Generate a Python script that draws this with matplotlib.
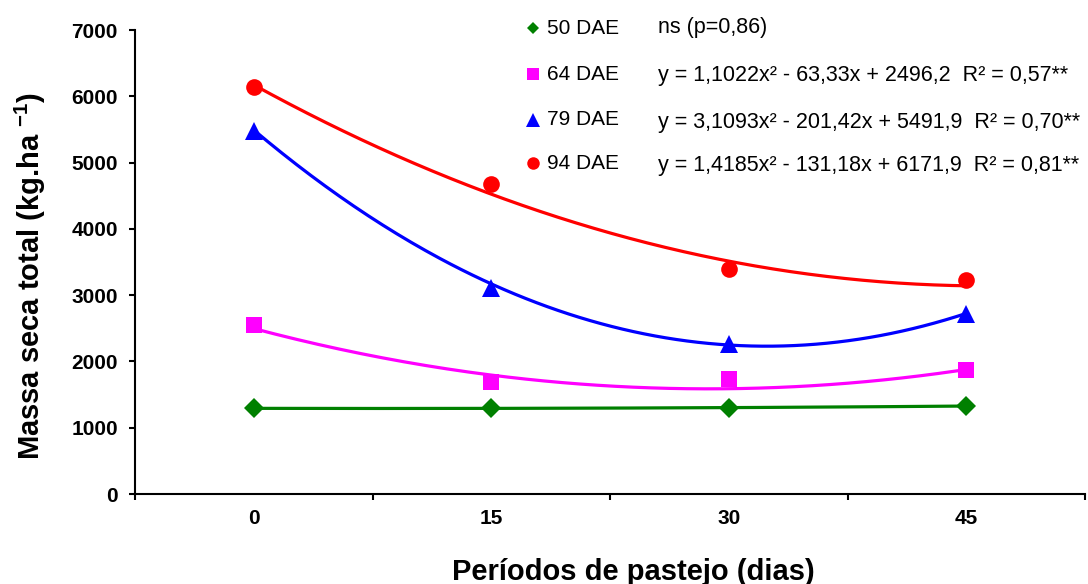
import matplotlib
matplotlib.use("Agg")
import matplotlib.pyplot as plt
import numpy as np

plt.rcParams['font.family'] = ['Liberation Sans', 'DejaVu Sans']
plt.rcParams['mathtext.fontset'] = 'custom'
plt.rcParams['mathtext.rm'] = 'Liberation Sans'
plt.rcParams['mathtext.bf'] = 'Liberation Sans:bold'

# Observed means per grazing period (days)
days = [0, 15, 30, 45]
series_names = ['50 DAE', '64 DAE', '79 DAE', '94 DAE']
dae50 = [1292, 1292, 1303, 1327]
dae64 = [2555, 1691, 1732, 1868]
dae79 = [5480, 3106, 2262, 2717]
dae94 = [6136, 4676, 3398, 3221]

# Quadratic fits printed on the chart (a, b, c for ax^2 + bx + c)
fit64 = [1.1022, -63.33, 2496.2]
fit79 = [3.1093, -201.42, 5491.9]
fit94 = [1.4185, -131.18, 6171.9]

equations = [
    'ns (p=0,86)',
    'y = 1,1022x² - 63,33x + 2496,2  R² = 0,57**',
    'y = 3,1093x² - 201,42x + 5491,9  R² = 0,70**',
    'y = 1,4185x² - 131,18x + 6171,9  R² = 0,81**',
]

colors = ['#008000', '#ff00ff', '#0000ff', '#ff0000']
markers = ['D', 's', '^', 'o']
marker_sizes = [10, 11.5, 13, 12]
legend_sizes = [6.5, 9, 10, 9]

W, H = 1088, 584
fig = plt.figure(figsize=(W / 100, H / 100), dpi=100)
ax = fig.add_axes([135 / W, 1 - 494 / H, 950 / W, 464 / H])

# 50 DAE is not significant: a plain trend through the observed means
fit50 = np.polyfit(days, dae50, 2)
fits = [fit50, fit64, fit79, fit94]
observed = [dae50, dae64, dae79, dae94]

xs = np.linspace(days[0], days[-1], 200)
for obs, fit, c, m, ms in zip(observed, fits, colors, markers, marker_sizes):
    ax.plot(xs, np.polyval(fit, xs), color=c, lw=2.3, zorder=2)
    ax.plot(days, obs, linestyle='none', marker=m, ms=ms, color=c,
            markeredgewidth=0, zorder=3)

ax.set_xlim(-7.5, 52.5)
ax.set_ylim(0, 7000)
ax.spines['top'].set_visible(False)
ax.spines['right'].set_visible(False)
ax.spines['left'].set_linewidth(1.5)
ax.spines['bottom'].set_linewidth(1.5)

ax.set_yticks(np.arange(0, 7001, 1000))
ax.set_xticks(days)
ax.set_xticklabels([str(d) for d in days])
ax.set_xticks([-7.5, 7.5, 22.5, 37.5, 52.5], minor=True)
ax.tick_params(axis='x', which='major', length=0, pad=11, labelsize=15)
ax.tick_params(axis='x', which='minor', length=4.3, width=1.5, direction='out')
ax.tick_params(axis='y', length=4.3, width=1.5, direction='out', pad=8, labelsize=15)
for lab in ax.get_xticklabels() + ax.get_yticklabels():
    lab.set_fontweight('bold')

fig.text(30 / W, 1 - 276 / H, r'Massa seca total (kg.ha $^{\mathbf{-1}}$)',
         rotation=90, ha='center', va='center', fontsize=21, fontweight='bold')
fig.text(633 / W, 1 - 572 / H, 'Períodos de pastejo (dias)',
         ha='center', va='center', fontsize=21, fontweight='bold')

# legend with the regression equations
label_rows = [28, 74, 120, 163]
eq_rows = [28, 76, 122, 165]
for i in range(4):
    ax.plot([533 / W], [1 - label_rows[i] / H], transform=fig.transFigure,
            marker=markers[i], ms=legend_sizes[i], color=colors[i],
            markeredgewidth=0, linestyle='none', clip_on=False)
    fig.text(547 / W, 1 - label_rows[i] / H, series_names[i],
             ha='left', va='center', fontsize=15)
    fig.text(658 / W, 1 - eq_rows[i] / H, equations[i],
             ha='left', va='center', fontsize=15.5)

fig.savefig('out.png', dpi=100)
